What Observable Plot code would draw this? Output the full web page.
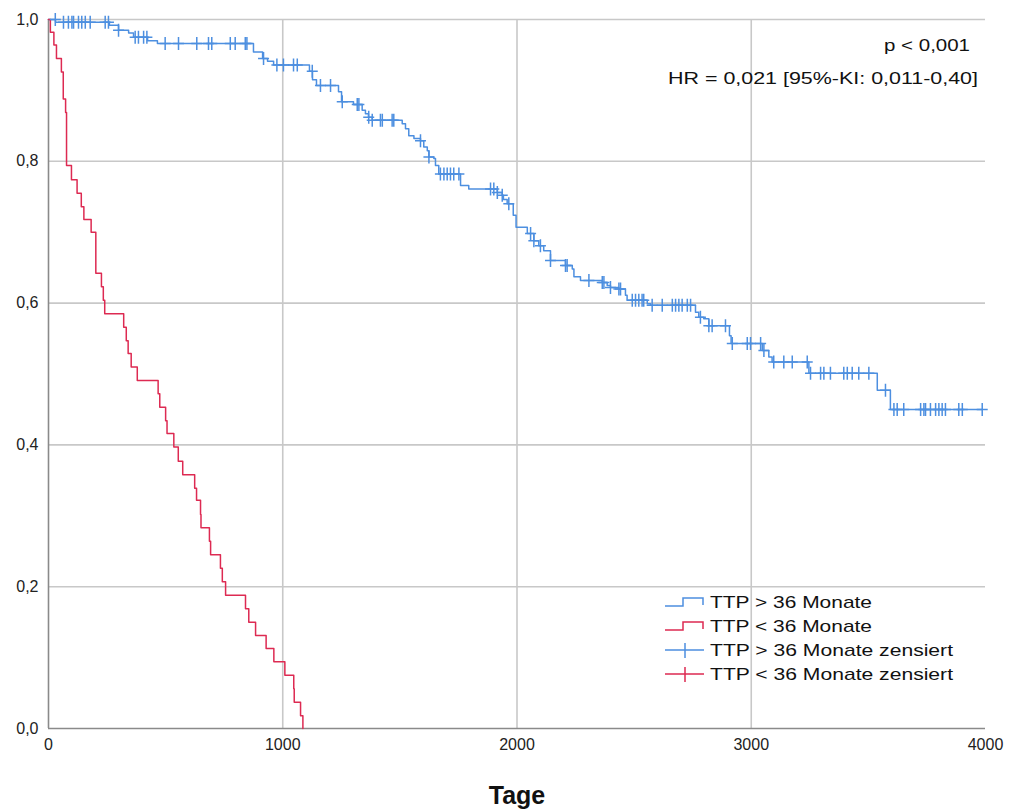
<!DOCTYPE html>
<html><head><meta charset="utf-8">
<script src="https://cdn.jsdelivr.net/npm/d3@7"></script>
<script src="https://cdn.jsdelivr.net/npm/@observablehq/plot@0.6"></script>
<style>body{margin:0;background:#fff;} svg{display:block}</style>
</head><body><div id="chart"></div>
<script>
// ---- data ----
const blueTime = [0, 30, 260, 299, 342, 363, 423, 465, 875, 914, 935, 961, 1114, 1127, 1144, 1238, 1251, 1302, 1339, 1353, 1366, 1382, 1510, 1524, 1538, 1560, 1588, 1602, 1617, 1624, 1645, 1652, 1666, 1759, 1794, 1916, 1937, 1942, 1958, 1984, 1996, 2044, 2072, 2093, 2114, 2143, 2207, 2236, 2243, 2271, 2364, 2385, 2399, 2435, 2463, 2470, 2556, 2570, 2762, 2776, 2797, 2819, 2907, 2914, 3047, 3075, 3089, 3246, 3538, 3594, 3986];
const blueSurv = [1.0, 0.996, 0.992, 0.985, 0.981, 0.975, 0.970, 0.966, 0.954, 0.945, 0.941, 0.936, 0.927, 0.915, 0.907, 0.898, 0.884, 0.880, 0.872, 0.867, 0.862, 0.858, 0.853, 0.846, 0.836, 0.832, 0.829, 0.820, 0.815, 0.806, 0.804, 0.794, 0.782, 0.766, 0.761, 0.756, 0.752, 0.746, 0.740, 0.724, 0.707, 0.698, 0.688, 0.681, 0.674, 0.660, 0.653, 0.648, 0.637, 0.632, 0.629, 0.625, 0.622, 0.620, 0.611, 0.604, 0.599, 0.597, 0.587, 0.580, 0.578, 0.568, 0.554, 0.543, 0.533, 0.524, 0.517, 0.501, 0.477, 0.450, 0.450];
const redTime = [0, 8, 23, 34, 55, 63, 73, 77, 98, 122, 140, 151, 182, 202, 226, 234, 240, 321, 332, 340, 353, 379, 468, 475, 500, 506, 535, 554, 573, 624, 632, 649, 651, 687, 692, 734, 742, 756, 841, 855, 884, 929, 962, 1009, 1047, 1049, 1076, 1086];
const redSurv = [1.0, 0.982, 0.964, 0.945, 0.926, 0.888, 0.869, 0.794, 0.774, 0.755, 0.736, 0.718, 0.700, 0.642, 0.623, 0.604, 0.585, 0.566, 0.547, 0.529, 0.510, 0.491, 0.472, 0.453, 0.434, 0.416, 0.397, 0.377, 0.358, 0.339, 0.322, 0.302, 0.283, 0.264, 0.245, 0.226, 0.207, 0.188, 0.169, 0.150, 0.131, 0.113, 0.094, 0.075, 0.056, 0.037, 0.018, 0];
const blueCensorTime = [29, 64, 85, 100, 107, 128, 142, 157, 178, 242, 256, 299, 370, 384, 406, 420, 498, 555, 633, 683, 697, 776, 797, 840, 847, 918, 975, 1003, 1046, 1062, 1126, 1161, 1204, 1254, 1318, 1325, 1367, 1382, 1417, 1425, 1467, 1474, 1588, 1624, 1673, 1688, 1702, 1716, 1730, 1752, 1887, 1901, 1916, 1937, 1965, 2058, 2072, 2100, 2143, 2207, 2214, 2307, 2364, 2371, 2399, 2435, 2442, 2492, 2506, 2520, 2534, 2541, 2577, 2620, 2663, 2677, 2691, 2705, 2727, 2741, 2783, 2819, 2833, 2890, 2919, 2983, 2997, 3040, 3054, 3096, 3139, 3175, 3239, 3253, 3296, 3310, 3338, 3395, 3410, 3431, 3459, 3502, 3573, 3609, 3623, 3651, 3723, 3737, 3744, 3765, 3787, 3801, 3815, 3829, 3886, 3901, 3986];
const redCensorTime = [];
const xTicks = [0, 1000, 2000, 3000, 4000];
const yTicks = [0, 0.2, 0.4, 0.6, 0.8, 1.0];
const seriesNames = ["TTP > 36 Monate", "TTP < 36 Monate"];
const legendLabels = ["TTP > 36 Monate", "TTP < 36 Monate", "TTP > 36 Monate zensiert", "TTP < 36 Monate zensiert"];
const annotations = ["p < 0,001", "HR = 0,021 [95%-KI: 0,011-0,40]"];
const xLabel = "Tage";

// ---- styling ----
const BLUE = "#4d8fe0", RED = "#dd2a52";
const FONT = "'Liberation Sans', Arial, sans-serif";

const toRows = (T, S) => T.map((t, i) => ({t, s: S[i]}));
const survAt = (T, S, t) => { let v = S[0]; for (let i = 0; i < T.length; i++) if (T[i] <= t) v = S[i]; return v; };
const blueRows = toRows(blueTime, blueSurv);
const redRows = toRows(redTime, redSurv);
const blueCens = blueCensorTime.map(t => ({t, s: survAt(blueTime, blueSurv, t)}));
const redCens = redCensorTime.map(t => ({t, s: survAt(redTime, redSurv, t)}));

const crossSymbol = {
  draw(ctx, size) {
    ctx.moveTo(-5.5, 0); ctx.lineTo(5.5, 0);
    ctx.moveTo(0, -6.5); ctx.lineTo(0, 6.5);
  }
};

const comma = d => d.toFixed(1).replace(".", ",");

const svg = Plot.plot({
  width: 1009, height: 812,
  marginLeft: 48, marginRight: 24, marginTop: 19, marginBottom: 84,
  style: {fontSize: "16px", fontFamily: FONT, color: "#222", background: "#fff"},
  x: {domain: [0, 4000], ticks: xTicks, tickFormat: d => String(d), tickSize: 0, tickPadding: 10, label: null},
  y: {domain: [0, 1], ticks: yTicks, tickFormat: comma, tickSize: 0, tickPadding: 10, label: null},
  marks: [
    Plot.ruleX(xTicks.filter(d => d > 0 && d < 4000), {stroke: "#c8c8c8", strokeWidth: 1.6}),
    Plot.ruleY(yTicks.filter(d => d > 0), {stroke: "#c8c8c8", strokeWidth: 1.6}),
    Plot.ruleX([0], {stroke: "#8a8a8a", strokeWidth: 1.6}),
    Plot.ruleY([0], {stroke: "#8a8a8a", strokeWidth: 1.6}),
    Plot.line(blueRows, {x: "t", y: "s", curve: "step-after", stroke: BLUE, strokeWidth: 1.5}),
    Plot.line(redRows, {x: "t", y: "s", curve: "step-after", stroke: RED, strokeWidth: 1.5}),
    Plot.dot(blueCens, {x: "t", y: "s", symbol: crossSymbol, fill: "none", stroke: BLUE, strokeWidth: 1.5}),
    Plot.dot(redCens, {x: "t", y: "s", symbol: crossSymbol, fill: "none", stroke: RED, strokeWidth: 1.5}),
    Plot.text([xLabel], {frameAnchor: "bottom", lineAnchor: "middle", dy: 67, fontWeight: "bold", fontSize: 25, fill: "#111"})
  ]
});
document.getElementById("chart").appendChild(svg);

// annotations and legend (inside plot area)
const root = d3.select(svg);
const ann = root.append("g").attr("font-family", FONT).attr("font-size", 17).attr("fill", "#111").attr("text-anchor", "start");
const annPos = [{x: 884, y: 51, w: 86}, {x: 668, y: 84, w: 310}];
annotations.forEach((txt, i) => {
  ann.append("text").attr("x", annPos[i].x).attr("y", annPos[i].y).attr("text-anchor", "start")
    .attr("textLength", annPos[i].w).attr("lengthAdjust", "spacingAndGlyphs").text(txt);
});

const leg = root.append("g").attr("font-family", FONT).attr("font-size", 17).attr("fill", "#111").attr("text-anchor", "start");
const legColors = [BLUE, RED, BLUE, RED];
const legWidths = [162, 162, 243, 243];
legendLabels.forEach((lab, i) => {
  const cy = 602 + i * 24;
  if (i < 2) {
    leg.append("path").attr("d", `M665,${cy + 4}H683V${cy - 4}H703V${cy + 3}`)
      .attr("fill", "none").attr("stroke", legColors[i]).attr("stroke-width", 1.5);
  } else {
    leg.append("path").attr("d", `M665,${cy}H704M685,${cy - 7}V${cy + 8}`)
      .attr("fill", "none").attr("stroke", legColors[i]).attr("stroke-width", 1.5);
  }
  leg.append("text").attr("x", 710).attr("y", cy + 6).attr("text-anchor", "start")
    .attr("textLength", legWidths[i]).attr("lengthAdjust", "spacingAndGlyphs").text(lab);
});
</script>
</body></html>
